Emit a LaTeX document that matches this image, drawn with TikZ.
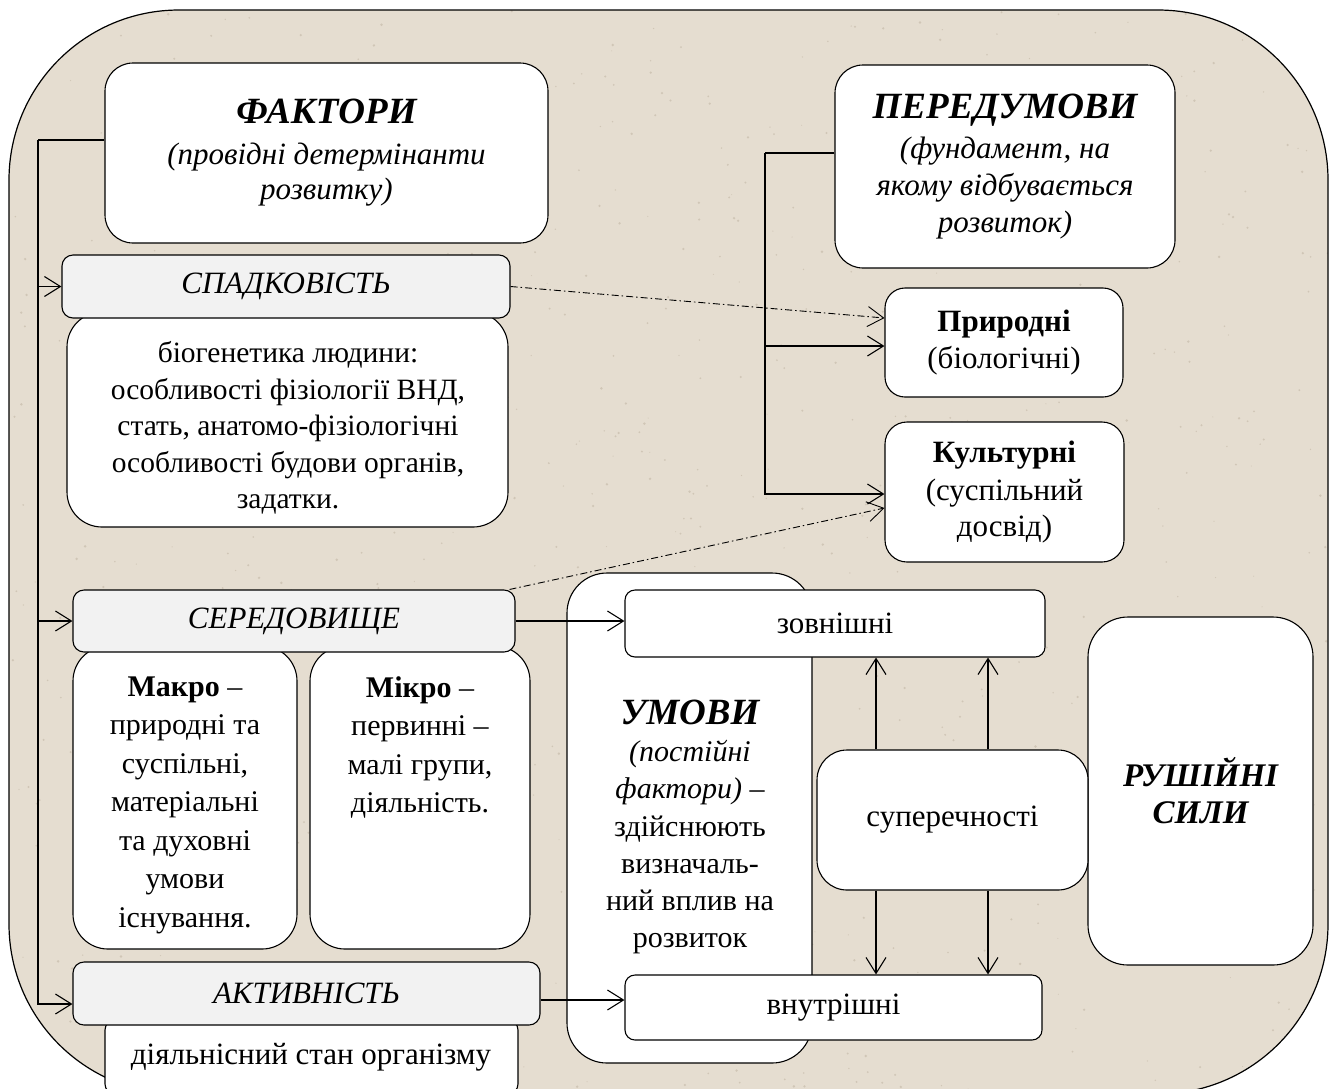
\documentclass[tikz,border=0pt]{standalone}
\usepackage{fontspec}
\setmainfont{Liberation Serif}
\usetikzlibrary{arrows.meta,calc}

\definecolor{paper}{RGB}{229,221,208}
\definecolor{speck}{RGB}{188,176,158}
\definecolor{headgrey}{RGB}{242,242,242}

\newcommand\bodytext{\fontsize{31}{37}\selectfont}
\newcommand\biotext{\fontsize{29.5}{36.5}\selectfont}
\newcommand\columntext{\fontsize{30}{38.5}\selectfont}
\newcommand\umovytext{\fontsize{30}{37.3}\selectfont}
\newcommand\headtext{\fontsize{37}{44}\selectfont\bfseries\itshape}

\tikzset{
  % a box given by its corners: corners=x1/y1/x2/y2
  corners/.style args={#1/#2/#3/#4}{
    at={({(#1+#3)/2},{(#2+#4)/2})},
    minimum width={(#3-#1)*1pt}, minimum height={(#4-#2)*1pt}},
  panel/.style={draw=black, line width=1.1pt, fill=white, inner sep=0pt,
    align=center, font=\bodytext, rounded corners=#1},
  panel/.default=28pt,
  tab/.style={panel=11pt, fill=headgrey, font=\bodytext\itshape},
  caption/.style={inner sep=0pt, align=center, font=\bodytext},
  wire/.style={draw=black, line width=1.1pt},
  arr/.style={wire, -{Straight Barb[length=16pt,width=20pt,line width=1.1pt]}},
  dotdash/.style={draw=black, line width=0.9pt,
    dash pattern=on 7pt off 3pt on 1.5pt off 3pt,
    -{Straight Barb[length=16pt,width=20pt,line width=0.9pt]}},
}

\begin{document}
\begin{tikzpicture}[x=1pt,y=-1pt]
\useasboundingbox (0,0) rectangle (1335,1088);
\clip (0,0) rectangle (1335,1088);
\fill[white] (0,0) rectangle (1335,1088);

% paper sheet with a light speckled texture
\fill[paper, rounded corners=170pt] (9,10) rectangle (1328,1094);
\begin{scope}
  \clip[rounded corners=170pt] (9,10) rectangle (1328,1094);
  \pgfmathsetseed{7}
  \foreach \i in {1,...,900}{
    \pgfmathsetmacro\rx{10+1318*rnd}
    \pgfmathsetmacro\ry{10+1084*rnd}
    \pgfmathsetmacro\rr{0.5+0.9*rnd}
    \fill[speck, opacity=0.5] (\rx,\ry) circle[radius=\rr pt];
  }
\end{scope}
\draw[line width=1.2pt, rounded corners=170pt] (9,10) rectangle (1328,1094);

% ---- factors column ----
\node[panel, corners=105/63/548/243] (fak)
  {{\headtext ФАКТОРИ}\\[4pt]
   {\itshape (провідні детермінанти}\\[-2pt]
   {\itshape розвитку)}};

\node[panel=35pt, corners=67/312/508/527] (bio) {};
\node[caption, font=\biotext] (bioTxt) at (288,428)
  {біогенетика людини:\\особливості фізіології ВНД,\\стать, анатомо-фізіологічні\\особливості будови органів,\\задатки.};
\node[tab, corners=62/255/510/318] (spad) {СПАДКОВІСТЬ};

\node[panel=35pt, corners=73/646/297/949] (makro) {};
\node[caption, font=\columntext] (makroTxt) at (185,805)
  {\textbf{Макро} –\\природні та\\суспільні,\\матеріальні\\та духовні\\умови\\існування.};
\node[panel=35pt, corners=310/646/530/949] (mikro) {};
\node[caption, font=\columntext, anchor=north] (mikroTxt) at (420,676)
  {\textbf{Мікро} –\\первинні –\\малі групи,\\діяльність.};
\node[tab, corners=73/590/515/652] (ser) {СЕРЕДОВИЩЕ};

\node[panel=10pt, corners=105/1020/518/1094] (dial) {};
\node[caption] (dialTxt) at (311,1057) {діяльнісний стан організму};
\node[tab, corners=73/962/540/1025] (akt) {АКТИВНІСТЬ};

% ---- preconditions ----
\node[panel, corners=835/65/1175/268] (pered)
  {{\headtext ПЕРЕДУМОВИ}\\[3pt]
   {\itshape (фундамент, на}\\
   {\itshape якому відбувається}\\
   {\itshape розвиток)}};
\node[panel=20pt, corners=885/288/1123/397] (prir) {\textbf{Природні}\\(біологічні)};
\node[panel=22pt, corners=885/422/1124/562] (kult)
  {\textbf{Культурні}\\[1pt](суспільний\\[-1pt]досвід)};

% ---- conditions and driving forces ----
\node[panel=40pt, corners=567/573/812/1063] (umovy) {};
\node[caption, font=\umovytext] (umovyTxt) at (690,827)
  {{\headtext УМОВИ}\\
   {\itshape (постійні}\\
   {\itshape фактори)} –\\
   здійснюють\\визначаль-\\ний вплив на\\розвиток};
\node[panel=10pt, corners=625/590/1045/657] (zovn) {зовнішні};
\node[panel=10pt, corners=625/975/1042/1040] (vnut) {внутрішні};
\node[panel=40pt, corners=1088/617/1313/965] (rush)
  {{\fontsize{33}{38}\selectfont\bfseries\itshape РУШІЙНІ}\\
   {\fontsize{33}{38}\selectfont\bfseries\itshape СИЛИ}};
\node[panel=30pt, corners=817/750/1088/890] (super) {суперечності};

% ---- connectors ----
\coordinate (fBus) at (38,140);
\draw[wire] (fak.west |- fBus) -- (fBus);
\draw[arr] (fBus) -- (fBus |- 0,1004) -- (akt.west |- 0,1004);
\draw[arr] (fBus |- spad.west) -- (spad.west);
\draw[arr] (fBus |- ser.west) -- (ser.west);

\coordinate (pBus) at (765,153);
\draw[wire] (pered.west |- pBus) -- (pBus);
\draw[arr] (pBus) |- ([yshift=-2pt]kult.west);
\draw[arr] (pBus |- 0,346) -- (prir.west |- 0,346);

\draw[dotdash] (spad.east) -- (prir.west |- 0,318);
\draw[dotdash] ([xshift=-6pt]ser.north east) -- (kult.west |- 0,508);

\draw[arr] (ser.east) -- (zovn.west |- ser.east);
\draw[arr] (akt.east |- 0,1000) -- (vnut.west |- 0,1000);

\draw[arr] (super.north -| 876,0) -- (zovn.south -| 876,0);
\draw[arr] (super.north -| 988,0) -- (zovn.south -| 988,0);
\draw[arr] (super.south -| 876,0) -- (vnut.north -| 876,0);
\draw[arr] (super.south -| 988,0) -- (vnut.north -| 988,0);
\end{tikzpicture}
\end{document}
